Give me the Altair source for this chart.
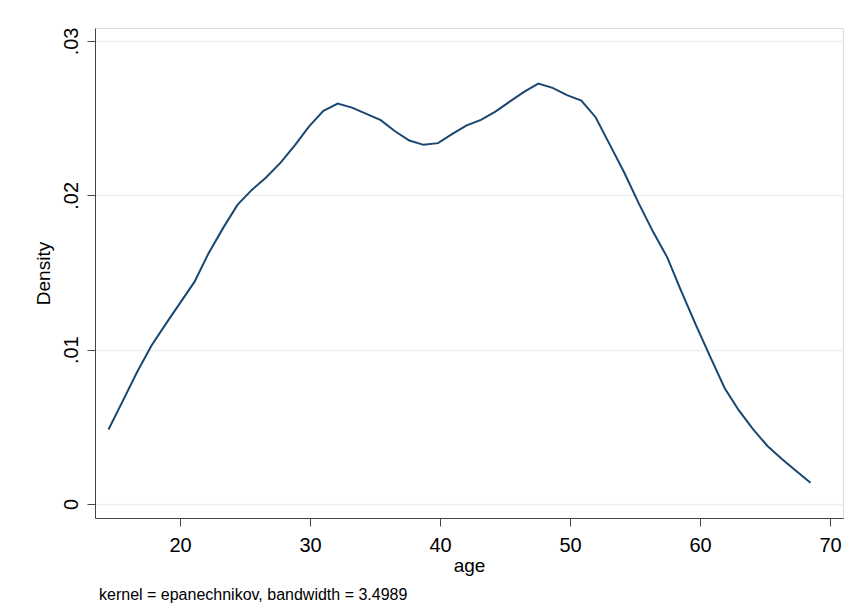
import altair as alt
import pandas as pd

# Kernel density estimate of age (50 evaluation points)
age = [14.50, 15.60, 16.70, 17.81, 18.91, 20.01, 21.11, 22.21, 23.32, 24.42,
       25.52, 26.62, 27.72, 28.83, 29.93, 31.03, 32.13, 33.23, 34.34, 35.44,
       36.54, 37.64, 38.74, 39.85, 40.95, 42.05, 43.15, 44.26, 45.36, 46.46,
       47.56, 48.66, 49.77, 50.87, 51.97, 53.07, 54.17, 55.28, 56.38, 57.48,
       58.58, 59.68, 60.79, 61.89, 62.99, 64.09, 65.19, 66.30, 67.40, 68.50]
density = [0.00483, 0.00668, 0.00855, 0.01027, 0.01167, 0.01303, 0.01439, 0.01627, 0.01789, 0.01938,
           0.02035, 0.02116, 0.02210, 0.02323, 0.02447, 0.02547, 0.02594, 0.02568, 0.02528, 0.02487,
           0.02415, 0.02355, 0.02327, 0.02338, 0.02398, 0.02453, 0.02489, 0.02542, 0.02607, 0.02670,
           0.02724, 0.02696, 0.02649, 0.02614, 0.02506, 0.02327, 0.02148, 0.01949, 0.01765, 0.01598,
           0.01374, 0.01160, 0.00953, 0.00752, 0.00606, 0.00483, 0.00376, 0.00292, 0.00214, 0.00138]

x_ticks = [20, 30, 40, 50, 60, 70]
y_ticks = [0, 0.01, 0.02, 0.03]
note = "kernel = epanechnikov, bandwidth = 3.4989"

df = pd.DataFrame({"age": age, "density": density})

FONT = "Liberation Sans"

chart = alt.Chart(df).mark_line(color="#1a476f", strokeWidth=2).encode(
    x=alt.X("age:Q",
            scale=alt.Scale(domain=[13.46, 71.0], nice=False, zero=False),
            axis=alt.Axis(values=x_ticks, title="age", grid=False,
                          domainColor="#444444", tickColor="#444444",
                          tickSize=8, labelFontSize=20, labelPadding=9,
                          labelColor="black", titleFontSize=19,
                          titleFontWeight="normal", titleColor="black",
                          titlePadding=1, labelFont=FONT, titleFont=FONT)),
    y=alt.Y("density:Q",
            scale=alt.Scale(domain=[-0.000907, 0.03084], nice=False, zero=False),
            axis=alt.Axis(values=y_ticks, title="Density",
                          labelExpr="datum.value == 0 ? '0' : replace(format(datum.value, '.2f'), /^0/, '')",
                          grid=True, gridColor="#e8eff3", gridWidth=1.5,
                          domainColor="#444444", tickColor="#444444",
                          tickSize=8, labelFontSize=20, labelAngle=270,
                          labelAlign="center", labelBaseline="bottom",
                          labelPadding=6, labelColor="black",
                          titleFontSize=19, titleFontWeight="normal",
                          titleColor="black", titlePadding=8,
                          labelFont=FONT, titleFont=FONT)),
).properties(
    width=748,
    height=490,
    title=alt.TitleParams(note, orient="bottom", anchor="start", frame="group",
                          fontSize=16, fontWeight="normal", font=FONT,
                          color="black", offset=12, dx=4),
    padding={"left": 95, "top": 28, "right": 5, "bottom": 89},
    autosize=alt.AutoSizeParams(type="none"),
).configure_view(stroke=None).configure(background="white")

chart.save("out.html", embed_options={"renderer": "svg", "actions": False})
